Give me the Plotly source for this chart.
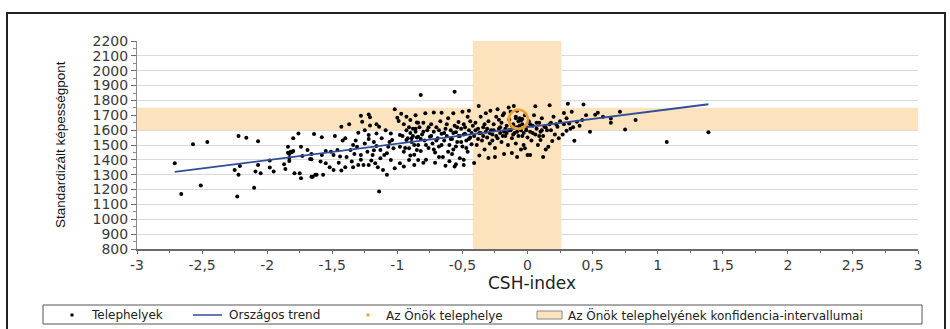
import plotly.graph_objects as go

# ---------------- data ----------------
# school sites (CSH-index, standardised score), grouped by x-region
sites_far_left = [
    (-2.71, 1377), (-2.66, 1171), (-2.57, 1505), (-2.46, 1520), (-2.51, 1227),
    (-2.22, 1560), (-2.16, 1549), (-2.07, 1525), (-2.25, 1332), (-2.21, 1359),
    (-2.22, 1299), (-2.23, 1153), (-2.10, 1213), (-2.07, 1366), (-2.09, 1321),
    (-2.05, 1310), (-1.98, 1349), (-1.98, 1395), (-1.95, 1321), (-1.87, 1370),
    (-1.86, 1339), (-1.84, 1489), (-1.84, 1448), (-1.82, 1455), (-1.80, 1460),
    (-1.83, 1440), (-1.81, 1452), (-1.80, 1545), (-1.76, 1578), (-1.74, 1489),
    (-1.69, 1467), (-1.66, 1440), (-1.66, 1404), (-1.64, 1574), (-1.83, 1413),
    (-1.83, 1393), (-1.79, 1310), (-1.75, 1310), (-1.74, 1276), (-1.66, 1287),
    (-1.62, 1299), (-1.73, 1426), (-1.67, 1406), (-1.65, 1287), (-1.63, 1299),
]
sites_left = [
    (-1.58, 1552), (-1.42, 1530), (-1.43, 1623), (-1.37, 1639), (-1.28, 1697),
    (-1.22, 1706), (-1.21, 1686), (-1.27, 1657), (-1.21, 1631), (-1.16, 1639),
    (-1.14, 1623), (-1.02, 1740), (-1.00, 1684), (-0.99, 1662), (-1.30, 1582),
    (-1.22, 1540), (-1.34, 1500), (-1.31, 1489), (-1.51, 1455), (-1.46, 1467),
    (-1.58, 1433), (-1.52, 1350), (-1.49, 1332), (-1.43, 1328), (-1.57, 1299),
    (-1.39, 1419), (-1.35, 1389), (-1.34, 1350), (-1.30, 1366), (-1.26, 1366),
    (-1.22, 1366), (-1.17, 1378), (-1.13, 1411), (-1.14, 1187), (-1.08, 1444),
    (-1.05, 1399), (-1.02, 1344), (-1.11, 1332), (-1.07, 1489), (-1.03, 1478),
    (-1.22, 1567), (-1.16, 1578), (-1.09, 1600), (-1.05, 1578), (-1.04, 1533),
    (-1.16, 1494), (-1.13, 1467), (-1.23, 1455), (-1.28, 1433), (-1.19, 1433),
    (-1.10, 1433), (-1.49, 1433), (-1.44, 1422), (-1.55, 1378), (-1.59, 1389),
    (-1.36, 1467), (-1.48, 1560), (-1.40, 1545), (-1.32, 1530), (-1.25, 1510),
    (-1.18, 1520), (-1.12, 1545), (-1.06, 1520), (-1.45, 1380), (-1.40, 1350),
    (-1.28, 1400), (-1.20, 1395), (-1.15, 1350), (-1.08, 1300), (-1.55, 1460),
    (-1.25, 1600), (-1.33, 1440), (-1.18, 1465),
]
sites_mid_left = [
    (-0.98, 1378), (-0.95, 1355), (-0.91, 1399), (-0.87, 1366), (-0.84, 1399),
    (-0.98, 1489), (-0.95, 1455), (-0.91, 1478), (-0.87, 1500), (-0.85, 1467),
    (-0.98, 1567), (-0.93, 1600), (-0.86, 1589), (-0.93, 1533), (-0.89, 1545),
    (-0.84, 1556), (-0.90, 1668), (-0.85, 1652), (-0.82, 1836), (-0.56, 1858),
    (-0.97, 1710), (-0.95, 1640), (-0.93, 1690), (-0.91, 1620), (-0.90, 1580),
    (-0.89, 1520), (-0.88, 1610), (-0.87, 1435), (-0.86, 1700), (-0.85, 1550),
    (-0.84, 1500), (-0.83, 1620), (-0.82, 1460), (-0.81, 1570), (-0.80, 1650),
    (-0.79, 1530), (-0.785, 1713), (-0.78, 1400), (-0.77, 1600), (-0.76, 1480),
    (-0.75, 1555), (-0.74, 1640), (-0.73, 1510), (-0.72, 1719), (-0.72, 1590),
    (-0.71, 1450), (-0.70, 1620), (-0.69, 1545), (-0.68, 1490), (-0.67, 1660),
    (-0.66, 1717), (-0.66, 1575), (-0.65, 1420), (-0.64, 1530), (-0.63, 1610),
    (-0.62, 1560), (-0.61, 1680), (-0.60, 1500), (-0.60, 1390), (-0.59, 1600),
    (-0.58, 1540), (-0.57, 1713), (-0.57, 1470), (-0.56, 1630), (-0.55, 1585),
    (-0.54, 1520), (-0.53, 1655), (-0.52, 1410), (-0.52, 1560), (-0.51, 1610),
    (-0.50, 1723), (-0.50, 1490), (-0.49, 1640), (-0.48, 1575), (-0.47, 1530),
    (-0.46, 1690), (-0.46, 1455), (-0.45, 1730), (-0.45, 1600), (-0.44, 1550),
    (-0.43, 1505), (-0.42, 1630), (-0.96, 1560), (-0.94, 1480), (-0.92, 1545),
    (-0.90, 1430), (-0.88, 1560), (-0.86, 1610), (-0.84, 1650), (-0.82, 1540),
    (-0.80, 1590), (-0.78, 1500), (-0.76, 1620), (-0.74, 1560), (-0.72, 1470),
    (-0.70, 1530), (-0.68, 1600), (-0.66, 1500), (-0.64, 1580), (-0.62, 1640),
    (-0.61, 1455), (-0.59, 1540), (-0.57, 1580), (-0.55, 1490), (-0.54, 1620),
    (-0.53, 1560), (-0.51, 1520), (-0.49, 1570), (-0.48, 1620), (-0.47, 1480),
    (-0.45, 1540), (-0.44, 1660), (-0.43, 1580), (-0.71, 1380), (-0.63, 1360),
    (-0.55, 1370), (-0.49, 1400), (-0.58, 1440), (-0.68, 1420), (-0.80, 1380),
    (-0.56, 1355), (-0.49, 1366), (-0.41, 1379),
]
sites_centre = [
    (-0.41, 1560), (-0.40, 1650), (-0.39, 1500), (-0.38, 1610), (-0.375, 1762),
    (-0.37, 1580), (-0.36, 1690), (-0.35, 1530), (-0.34, 1620), (-0.33, 1470),
    (-0.32, 1713), (-0.32, 1590), (-0.31, 1550), (-0.30, 1660), (-0.29, 1510),
    (-0.285, 1730), (-0.28, 1600), (-0.27, 1570), (-0.26, 1640), (-0.25, 1480),
    (-0.24, 1690), (-0.23, 1740), (-0.23, 1545), (-0.22, 1610), (-0.21, 1580),
    (-0.20, 1650), (-0.20, 1520), (-0.19, 1700), (-0.18, 1713), (-0.18, 1590),
    (-0.17, 1560), (-0.16, 1630), (-0.15, 1500), (-0.145, 1753), (-0.14, 1670),
    (-0.13, 1723), (-0.13, 1600), (-0.12, 1545), (-0.11, 1640), (-0.105, 1762),
    (-0.10, 1580), (-0.09, 1690), (-0.09, 1510), (-0.08, 1730), (-0.08, 1620),
    (-0.07, 1660), (-0.07, 1560), (-0.06, 1680), (-0.05, 1600), (-0.05, 1470),
    (-0.04, 1640), (-0.03, 1500), (-0.03, 1580), (-0.02, 1700), (-0.02, 1478),
    (-0.01, 1620), (0.00, 1550), (0.00, 1433), (0.01, 1660), (0.02, 1590),
    (0.03, 1530), (0.04, 1630), (0.05, 1700), (0.06, 1761), (0.06, 1570),
    (0.07, 1610), (0.08, 1500), (0.09, 1650), (0.10, 1533), (0.10, 1590),
    (0.11, 1680), (0.12, 1560), (0.13, 1623), (0.14, 1470), (0.15, 1600),
    (0.16, 1489), (0.17, 1768), (0.17, 1640), (0.18, 1600), (0.19, 1527),
    (0.20, 1690), (0.21, 1570), (0.22, 1640), (0.23, 1623), (0.24, 1545),
    (0.25, 1660), (-0.40, 1600), (-0.38, 1540), (-0.36, 1580), (-0.34, 1560),
    (-0.33, 1640), (-0.31, 1610), (-0.29, 1580), (-0.27, 1530), (-0.26, 1600),
    (-0.24, 1560), (-0.22, 1670), (-0.21, 1620), (-0.19, 1560), (-0.17, 1610),
    (-0.16, 1580), (-0.14, 1600), (-0.12, 1630), (-0.11, 1570), (-0.10, 1620),
    (-0.08, 1590), (-0.06, 1630), (-0.04, 1560), (-0.01, 1600), (0.02, 1640),
    (0.04, 1580), (0.07, 1650), (0.09, 1560), (0.11, 1600), (0.14, 1620),
    (0.18, 1650), (-0.30, 1413), (-0.25, 1420), (-0.18, 1440), (-0.12, 1446),
    (-0.37, 1430), (-0.08, 1420), (0.02, 1433), (0.12, 1420), (-0.09, 1680),
    (-0.05, 1665), (-0.04, 1675),
]
sites_right = [
    (0.28, 1715), (0.30, 1596), (0.31, 1778), (0.32, 1645), (0.34, 1723),
    (0.36, 1529), (0.38, 1656), (0.42, 1668), (0.43, 1773), (0.48, 1589),
    (0.52, 1704), (0.64, 1679), (0.64, 1650), (0.71, 1723), (0.28, 1640),
    (0.30, 1680), (0.33, 1610), (0.27, 1570), (0.35, 1620), (0.40, 1630),
    (0.45, 1700), (0.54, 1717), (0.58, 1690), (0.75, 1605), (0.83, 1668),
    (1.07, 1520), (1.39, 1585),
]

own_site = (-0.07, 1673)            # "Az Önök telephelye"
ci_x = (-0.42, 0.26)                # confidence interval on CSH-index
ci_y = (1600, 1750)                 # confidence interval on score
trend_intercept = 1620              # "Országos trend"
trend_slope = 111

x_tick_vals = [-3, -2.5, -2, -1.5, -1, -0.5, 0, 0.5, 1, 1.5, 2, 2.5, 3]
x_tick_text = ["-3", "-2,5", "-2", "-1,5", "-1", "-0,5", "0", "0,5", "1", "1,5", "2", "2,5", "3"]
y_tick_vals = [800, 900, 1000, 1100, 1200, 1300, 1400, 1500, 1600, 1700, 1800, 1900, 2000, 2100, 2200]

legend_labels = ["Telephelyek", "Országos trend", "Az Önök telephelye",
                 "Az Önök telephelyének konfidencia-intervallumai"]

# ---------------- figure ----------------
W, H = 950, 329
ML, MR, MT, MB = 137, 32, 41, 80
PW, PH = W - ML - MR, H - MT - MB


def px(x):
    return (x - ML) / PW


def py(y):
    return (H - MB - y) / PH


all_sites = sites_far_left + sites_left + sites_mid_left + sites_centre + sites_right
sx = [p[0] for p in all_sites]
sy = [p[1] for p in all_sites]

BAND = "#FDE3BD"
TREND = "#2E4D9B"
ORANGE = "#F0A030"
TICKFONT = dict(family="DejaVu Sans, Verdana, sans-serif", size=14, color="#3a3a3a")

fig = go.Figure()

fig.add_trace(go.Scatter(
    x=sx, y=sy, mode="markers", name=legend_labels[0],
    marker=dict(color="black", size=4, line=dict(width=0)),
    showlegend=False,
))

tx = [min(sx), max(sx)]
fig.add_trace(go.Scatter(
    x=tx, y=[trend_intercept + trend_slope * v for v in tx], mode="lines",
    name=legend_labels[1], line=dict(color=TREND, width=1.8), showlegend=False,
))

fig.add_trace(go.Scatter(
    x=[own_site[0]], y=[own_site[1]], mode="markers", name=legend_labels[2],
    marker=dict(symbol="circle-open", size=19, color=ORANGE, line=dict(width=2.6, color=ORANGE)),
    showlegend=False,
))

shapes = [
    dict(type="rect", xref="x", yref="y", x0=-3, x1=3, y0=ci_y[0], y1=ci_y[1],
         fillcolor=BAND, line=dict(width=0), layer="between"),
    dict(type="rect", xref="x", yref="y", x0=ci_x[0], x1=ci_x[1], y0=800, y1=2200,
         fillcolor=BAND, line=dict(width=0), layer="between"),
    # outer frame
    dict(type="rect", xref="paper", yref="paper", x0=px(7), x1=px(945), y0=py(13), y1=py(345),
         line=dict(color="#222222", width=2), fillcolor="rgba(0,0,0,0)", layer="above"),
    # legend box
    dict(type="rect", xref="paper", yref="paper", x0=px(43), x1=px(922), y0=py(305), y1=py(324),
         line=dict(color="#555555", width=1), fillcolor="white", layer="above"),
    # legend symbols
    dict(type="rect", xref="paper", yref="paper", x0=px(70.5), x1=px(73.5), y0=py(313.5), y1=py(316.5),
         line=dict(width=0), fillcolor="black", layer="above"),
    dict(type="line", xref="paper", yref="paper", x0=px(193), x1=px(222), y0=py(315), y1=py(315),
         line=dict(color=TREND, width=1.5), layer="above"),
    dict(type="rect", xref="paper", yref="paper", x0=px(366.5), x1=px(369.5), y0=py(313.5), y1=py(316.5),
         line=dict(width=0), fillcolor=ORANGE, layer="above"),
    dict(type="rect", xref="paper", yref="paper", x0=px(537), x1=px(562), y0=py(311), y1=py(319),
         line=dict(color="#888888", width=1), fillcolor=BAND, layer="above"),
]

LEGFONT = dict(family="DejaVu Sans, Verdana, sans-serif", size=12, color="#222222")
annotations = [
    dict(text=legend_labels[0], x=px(89), y=py(315)),
    dict(text=legend_labels[1], x=px(227), y=py(315)),
    dict(text=legend_labels[2], x=px(384), y=py(315)),
    dict(text=legend_labels[3], x=px(566), y=py(315)),
]
for a in annotations:
    a.update(xref="paper", yref="paper", xanchor="left", yanchor="middle",
             showarrow=False, font=LEGFONT)

annotations.append(dict(
    text="CSH-index", xref="paper", yref="paper", x=px(532), y=py(283),
    xanchor="center", yanchor="middle", showarrow=False,
    font=dict(family="DejaVu Sans, Verdana, sans-serif", size=17, color="#222222"),
))
annotations.append(dict(
    text="Standardizált képességpont", xref="paper", yref="paper", x=px(60), y=py(145),
    xanchor="center", yanchor="middle", showarrow=False, textangle=-90,
    font=dict(family="Liberation Sans Narrow, Liberation Sans, Arial, sans-serif", size=13.5, color="#111111"),
))

fig.update_layout(
    width=W, height=H,
    margin=dict(l=ML, r=MR, t=MT, b=MB, pad=0),
    paper_bgcolor="white", plot_bgcolor="white",
    showlegend=False,
    shapes=shapes, annotations=annotations,
    xaxis=dict(
        range=[-3, 3], tickmode="array", tickvals=x_tick_vals, ticktext=x_tick_text,
        showgrid=False, zeroline=False, showline=True, linecolor="#6a6a6a", linewidth=1.5,
        ticks="outside", ticklen=3, tickcolor="#6a6a6a", tickfont=TICKFONT,
        ticklabelstandoff=-1,
        minor=dict(dtick=0.25, tick0=0, ticks="outside", ticklen=2, tickcolor="#6a6a6a", showgrid=False),
        fixedrange=True,
    ),
    yaxis=dict(
        range=[800, 2200], tickmode="array", tickvals=y_tick_vals,
        showgrid=True, gridcolor="#d9d9d9", gridwidth=1, zeroline=False,
        showline=True, linecolor="#8a8a8a", linewidth=1,
        ticks="outside", ticklen=5, tickcolor="#6a6a6a", tickfont=TICKFONT,
        minor=dict(dtick=50, tick0=0, ticks="outside", ticklen=3, tickcolor="#8a8a8a", showgrid=False),
        fixedrange=True,
    ),
)

fig.write_html(
    "out.html",
    config={"displayModeBar": False},
    post_script="document.body.style.margin='0px';document.body.style.overflow='hidden';",
)
